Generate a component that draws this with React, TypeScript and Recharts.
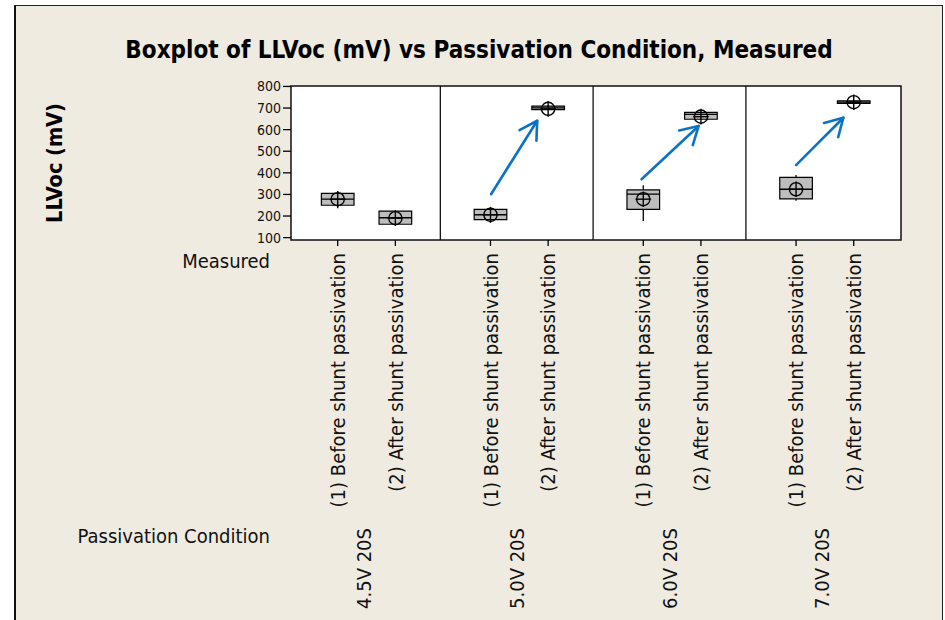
import React from "react";
import {
  ComposedChart,
  ReferenceArea,
  ReferenceLine,
  Scatter,
  XAxis,
  YAxis,
} from "recharts";

const FONT = "'DejaVu Sans Condensed', 'DejaVu Sans', sans-serif";

// categories inside each panel, then the panels themselves
const categories = ["(1) Before shunt passivation", "(2) After shunt passivation"];
const conditions = ["4.5V 20S", "5.0V 20S", "6.0V 20S", "7.0V 20S"];

// box stats, order: panel by panel, before then after
const whiskerLow = [236, 157, 169, 692, 177, 646, 271, 721];
const q1 = [250, 162, 183, 693, 231, 648, 279, 721];
const median = [278, 192, 206, 701, 301, 671, 324, 727];
const q3 = [305, 223, 231, 709, 321, 680, 379, 733];
const whiskerHigh = [316, 226, 240, 712, 342, 683, 390, 733];
const mean = [278, 190, 206, 696, 278, 660, 324, 727];

const yTicks = [100, 200, 300, 400, 500, 600, 700, 800];

// blue annotation arrows (panels 2-4), tail -> tip
const arrowFromX = [3.53, 6.14, 8.82];
const arrowFromY = [301, 370, 436];
const arrowToX = [4.33, 7.13, 9.64];
const arrowToY = [641, 617, 655];

const PANEL = 2.65;
const FIRST = 0.87;
const HALF = 0.283;
const X_DOMAIN: [number, number] = [0.06, 10.64];
const AXIS_Y = 240;

const boxes = conditions.flatMap((cond, p) =>
  categories.map((cat, i) => {
    const k = p * 2 + i;
    return {
      x: p * PANEL + FIRST + i,
      cond,
      cat,
      lo: whiskerLow[k],
      q1: q1[k],
      median: median[k],
      q3: q3[k],
      hi: whiskerHigh[k],
      mean: mean[k],
    };
  })
);

const catTicks = boxes.map((b) => b.x);
const condTicks = conditions.map((_, p) => p * PANEL + PANEL / 2);
const allTicks = [...catTicks, ...condTicks].sort((a, b) => a - b);

const findIndex = (arr: number[], v: number) => arr.findIndex((t) => Math.abs(t - v) < 1e-6);

const rotated = (x: number, y: number, label: string) => (
  <text
    x={x}
    y={y}
    dy="0.36em"
    transform={`rotate(-90, ${x}, ${y})`}
    textAnchor="end"
    fontFamily={FONT}
    fontSize={20}
    fill="#111"
  >
    {label}
  </text>
);

const XTick = (props: any) => {
  const { x, payload } = props;
  const v = payload.value;
  const ci = findIndex(catTicks, v);
  if (ci >= 0) {
    return (
      <g>
        <line x1={x} y1={AXIS_Y} x2={x} y2={AXIS_Y + 6} stroke="#000" strokeWidth={1.3} />
        {rotated(x, 253, categories[ci % 2])}
      </g>
    );
  }
  const pi = findIndex(condTicks, v);
  if (pi < 0) return null;
  return rotated(x, 528, conditions[pi]);
};

const MeanMarker = (props: any) => {
  const { cx, cy } = props;
  if (cx == null || cy == null) return null;
  return (
    <g stroke="#000" strokeWidth={1.4} fill="none">
      <circle cx={cx} cy={cy} r={6.6} />
      <line x1={cx - 7.8} y1={cy} x2={cx + 7.8} y2={cy} />
      <line x1={cx} y1={cy - 7.8} x2={cx} y2={cy + 7.8} />
    </g>
  );
};

const ArrowShape = (props: any) => {
  const { x1, y1, x2, y2 } = props;
  const ang = Math.atan2(y2 - y1, x2 - x1);
  const len = 20;
  const spread = Math.PI / 6;
  const ax = x2 - len * Math.cos(ang - spread);
  const ay = y2 - len * Math.sin(ang - spread);
  const bx = x2 - len * Math.cos(ang + spread);
  const by = y2 - len * Math.sin(ang + spread);
  return (
    <g stroke="#0b72c6" strokeWidth={2.6} fill="none" strokeLinecap="round" strokeLinejoin="round">
      <line x1={x1} y1={y1} x2={x2} y2={y2} />
      <polyline points={`${ax},${ay} ${x2},${y2} ${bx},${by}`} />
    </g>
  );
};

export default function App() {
  return (
    <div style={{ position: "absolute", left: 0, top: 0, width: 945, height: 620, background: "#fff", overflow: "hidden" }}>
      <div
        style={{
          position: "absolute",
          left: 14,
          top: 5,
          width: 926,
          height: 640,
          background: "#efebe1",
          borderLeft: "2px solid #111",
          borderTop: "1px solid #222",
          borderRight: "1.5px solid #222",
        }}
      />
      <div style={{ position: "absolute", left: 0, top: 0 }}>
        <ComposedChart
          width={945}
          height={620}
          data={boxes}
          margin={{ top: 86, right: 44, bottom: 0, left: 231 }}
        >
          <XAxis
            dataKey="x"
            type="number"
            domain={X_DOMAIN}
            ticks={allTicks}
            interval={0}
            allowDataOverflow
            height={380}
            axisLine={false}
            tickLine={false}
            tickSize={0}
            tick={<XTick />}
          />
          <YAxis
            type="number"
            domain={[89, 802]}
            ticks={yTicks}
            interval={0}
            allowDataOverflow
            width={60}
            axisLine={false}
            tickSize={8}
            tickMargin={2}
            tickLine={{ stroke: "#000", strokeWidth: 1.3 }}
            tick={{ fontFamily: FONT, fontSize: 14, fill: "#111" }}
          />

          <ReferenceArea
            x1={X_DOMAIN[0]}
            x2={X_DOMAIN[1]}
            y1={89}
            y2={802}
            fill="#ffffff"
            fillOpacity={1}
            stroke="#111"
            strokeWidth={1.5}
          />
          {[1, 2, 3].map((p) => (
            <ReferenceLine key={`div-${p}`} x={p * PANEL} stroke="#111" strokeWidth={1.3} />
          ))}

          {boxes.map((b, k) => (
            <ReferenceLine
              key={`wl-${k}`}
              segment={[{ x: b.x, y: b.lo }, { x: b.x, y: b.q1 }]}
              stroke="#000"
              strokeWidth={1.3}
            />
          ))}
          {boxes.map((b, k) => (
            <ReferenceLine
              key={`wh-${k}`}
              segment={[{ x: b.x, y: b.q3 }, { x: b.x, y: b.hi }]}
              stroke="#000"
              strokeWidth={1.3}
            />
          ))}
          {boxes.map((b, k) => (
            <ReferenceArea
              key={`box-${k}`}
              x1={b.x - HALF}
              x2={b.x + HALF}
              y1={b.q1}
              y2={b.q3}
              fill="#bdbdbd"
              fillOpacity={1}
              stroke="#000"
              strokeWidth={1.2}
            />
          ))}
          {boxes.map((b, k) => (
            <ReferenceLine
              key={`med-${k}`}
              segment={[{ x: b.x - HALF, y: b.median }, { x: b.x + HALF, y: b.median }]}
              stroke="#000"
              strokeWidth={1.3}
            />
          ))}

          <Scatter dataKey="mean" isAnimationActive={false} shape={<MeanMarker />} />

          {arrowFromX.map((fx, k) => (
            <ReferenceLine
              key={`arrow-${k}`}
              segment={[{ x: fx, y: arrowFromY[k] }, { x: arrowToX[k], y: arrowToY[k] }]}
              shape={<ArrowShape />}
            />
          ))}
        </ComposedChart>
      </div>
      <svg
        width={945}
        height={620}
        style={{ position: "absolute", left: 0, top: 0, pointerEvents: "none" }}
      >
        <text x={479} y={58} textAnchor="middle" fontFamily={FONT} fontSize={24} fontWeight="bold" fill="#000">
          Boxplot of LLVoc (mV) vs Passivation Condition, Measured
        </text>
        <text
          x={62}
          y={163}
          transform="rotate(-90, 62, 163)"
          textAnchor="middle"
          fontFamily={FONT}
          fontSize={21.5}
          fontWeight="bold"
          fill="#000"
        >
          LLVoc (mV)
        </text>
        <text x={270} y={268} textAnchor="end" fontFamily={FONT} fontSize={20} fill="#111">
          Measured
        </text>
        <text x={270} y={543} textAnchor="end" fontFamily={FONT} fontSize={20} fill="#111">
          Passivation Condition
        </text>
      </svg>
    </div>
  );
}
